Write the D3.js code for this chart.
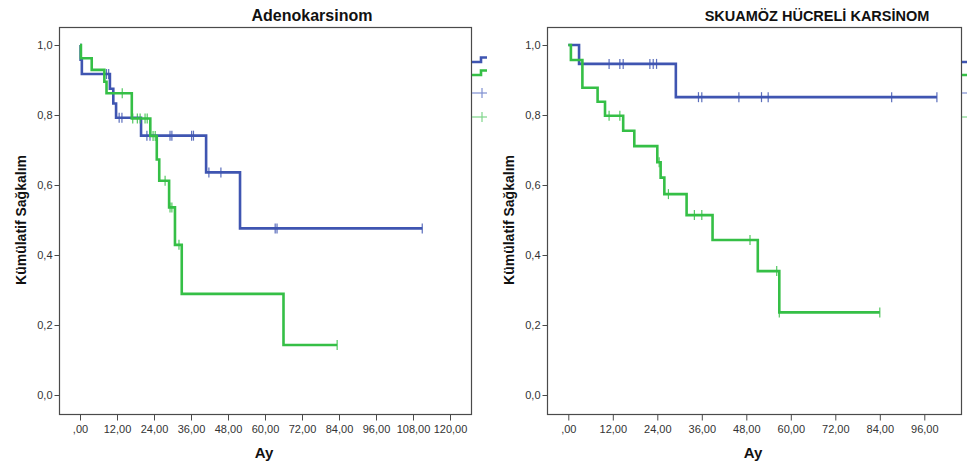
<!DOCTYPE html>
<html>
<head>
<meta charset="utf-8">
<script src="https://cdn.jsdelivr.net/npm/d3@7"></script>
<style>
  body { margin: 0; background: #fff; }
  svg text { font-family: Arial, "Liberation Sans", sans-serif; }
</style>
</head>
<body>
<div id="chart"></div>
<script>
// ---- data ----
var yTicks = [0, 0.2, 0.4, 0.6, 0.8, 1.0];

// Adenokarsinom
var adenoTicks = [0, 12, 24, 36, 48, 60, 72, 84, 96, 108, 120];
var adenoBlueTime = [0, 0.2, 0.6, 9.7, 10.8, 11.7, 19.8, 40.9, 51.9, 111];
var adenoBlueSurv = [1, 0.958, 0.917, 0.875, 0.833, 0.792, 0.741, 0.636, 0.476, 0.476];
var adenoBlueCens = [8.6, 9.3, 12.7, 13.6, 21.7, 22.7, 29.2, 29.8, 36.2, 36.8, 41.8, 45.7, 63.3, 63.9, 111];
var adenoGreenTime = [0, 0.3, 3.8, 7.9, 8.6, 16.8, 22.8, 24.9, 25.7, 28.9, 30.8, 33.0, 66.0, 83.4];
var adenoGreenSurv = [1, 0.962, 0.929, 0.895, 0.862, 0.790, 0.740, 0.673, 0.612, 0.536, 0.429, 0.289, 0.143, 0.143];
var adenoGreenCens = [13.7, 17.1, 18.6, 19.5, 21.1, 21.8, 23.7, 24.4, 27.6, 29.2, 29.8, 32.1, 83.4];

// Skuamöz hücreli karsinom
var skuaTicks = [0, 12, 24, 36, 48, 60, 72, 84, 96];
var skuaBlueTime = [0, 2.9, 29.0, 99.4];
var skuaBlueSurv = [1, 0.946, 0.851, 0.851];
var skuaBlueCens = [11.0, 13.9, 14.8, 22.0, 22.9, 23.8, 35.1, 36.0, 46.0, 52.1, 53.9, 87.2, 99.4];
var skuaGreenTime = [0, 0.7, 3.8, 7.9, 9.9, 14.8, 17.8, 24.0, 24.9, 25.9, 31.9, 38.9, 51.1, 56.9, 84.0];
var skuaGreenSurv = [1, 0.957, 0.878, 0.838, 0.798, 0.755, 0.711, 0.665, 0.621, 0.574, 0.514, 0.443, 0.354, 0.236, 0.236];
var skuaGreenCens = [11.0, 13.9, 24.5, 27.0, 34.0, 36.0, 49.0, 56.2, 56.9, 84.0];

var BLUE = "#3f55b1", GREEN = "#35bf46";
var BLUE_C = "#7f8fd0", GREEN_C = "#7fd58a";

var svg = d3.select("#chart").append("svg")
    .attr("width", 967)
    .attr("height", 468);

// panel layout
var panels = [
  { title: "Adenokarsinom", titleX: 312, titleSize: 16,
    left: 59, right: 471, top: 27, bottom: 414,
    xMax: 120, x0: 80, x1: 450, ticks: adenoTicks,
    yTitleX: 21, clipRight: 487,
    groups: [
      { time: adenoBlueTime, surv: adenoBlueSurv, cens: adenoBlueCens, color: BLUE, cColor: BLUE_C },
      { time: adenoGreenTime, surv: adenoGreenSurv, cens: adenoGreenCens, color: GREEN, cColor: GREEN_C }
    ] },
  { title: "SKUAMÖZ HÜCRELİ KARSİNOM", titleX: 817, titleSize: 14.5,
    left: 547, right: 961, top: 27, bottom: 414,
    xMax: 96, x0: 568.3, x1: 924.3, ticks: skuaTicks,
    yTitleX: 509, clipRight: 967,
    groups: [
      { time: skuaBlueTime, surv: skuaBlueSurv, cens: skuaBlueCens, color: BLUE, cColor: BLUE_C },
      { time: skuaGreenTime, surv: skuaGreenSurv, cens: skuaGreenCens, color: GREEN, cColor: GREEN_C }
    ] }
];

var fmtX = function(d) { return d === 0 ? ",00" : d.toFixed(2).replace(".", ","); };
var fmtY = function(d) { return d.toFixed(1).replace(".", ","); };

panels.forEach(function(p, pi) {
  var x = d3.scaleLinear().domain([0, p.xMax]).range([p.x0, p.x1]);
  var y = d3.scaleLinear().domain([0, 1]).range([395, 45]);

  var g = svg.append("g");

  // clip for the cut-off legend on the right
  svg.append("clipPath").attr("id", "clip" + pi)
     .append("rect").attr("x", p.left).attr("y", 0)
     .attr("width", p.clipRight - p.left).attr("height", 468);

  // frame
  g.append("rect")
   .attr("x", p.left + 0.5).attr("y", p.top + 0.5)
   .attr("width", p.right - p.left).attr("height", p.bottom - p.top)
   .attr("fill", "none").attr("stroke", "#4a4a4a").attr("stroke-width", 1.2);

  // x axis
  var xa = g.append("g")
    .attr("transform", "translate(0," + (p.bottom + 0.5) + ")")
    .call(d3.axisBottom(x).tickValues(p.ticks).tickFormat(fmtX).tickSize(6).tickPadding(5));
  xa.select(".domain").remove();
  xa.selectAll("line").attr("stroke", "#4a4a4a");
  xa.selectAll("text").attr("fill", "#333").style("font-size", "11px")
    .style("font-family", "Arial, 'Liberation Sans', sans-serif");

  // y axis
  var ya = g.append("g")
    .attr("transform", "translate(" + (p.left + 0.5) + ",0)")
    .call(d3.axisLeft(y).tickValues(yTicks).tickFormat(fmtY).tickSize(5).tickPadding(2));
  ya.select(".domain").remove();
  ya.selectAll("line").attr("stroke", "#4a4a4a");
  ya.selectAll("text").attr("fill", "#333").style("font-size", "11px")
    .style("font-family", "Arial, 'Liberation Sans', sans-serif");

  // titles
  g.append("text").attr("x", p.titleX).attr("y", 21)
   .attr("text-anchor", "middle").style("font-size", p.titleSize + "px")
   .style("font-weight", "bold").attr("fill", "#111").text(p.title);

  g.append("text").attr("x", (p.left + p.right) / 2 - 1).attr("y", 458)
   .attr("text-anchor", "middle").style("font-size", "15px")
   .style("font-weight", "bold").attr("fill", "#111").text("Ay");

  g.append("text")
   .attr("transform", "translate(" + p.yTitleX + ",220) rotate(-90)")
   .attr("text-anchor", "middle").attr("dy", "0.35em")
   .style("font-size", "14px").style("font-weight", "bold")
   .attr("fill", "#111").text("Kümülatif Sağkalım");

  // survival curves
  var line = d3.line()
    .x(function(d) { return x(d[0]); })
    .y(function(d) { return y(d[1]); })
    .curve(d3.curveStepAfter);

  p.groups.forEach(function(gr) {
    var pts = gr.time.map(function(t, i) { return [t, gr.surv[i]]; });
    g.append("path").datum(pts)
     .attr("d", line).attr("fill", "none")
     .attr("stroke", gr.color).attr("stroke-width", 2.6)
     .attr("stroke-linejoin", "miter");

    var survAt = function(t) {
      var v = gr.surv[0];
      for (var i = 0; i < gr.time.length; i++) if (gr.time[i] <= t) v = gr.surv[i];
      return v;
    };
    g.selectAll(null).data(gr.cens).enter().append("line")
     .attr("x1", function(t) { return x(t); }).attr("x2", function(t) { return x(t); })
     .attr("y1", function(t) { return y(survAt(t)) - 5; })
     .attr("y2", function(t) { return y(survAt(t)) + 5; })
     .attr("stroke", gr.color).attr("stroke-width", 1.2).attr("opacity", 0.85);
  });

  // legend (cut off at the image edge)
  var lg = svg.append("g").attr("clip-path", "url(#clip" + pi + ")");
  var lx = p.right + 1;
  [[62, BLUE], [75, GREEN]].forEach(function(it) {
    lg.append("path")
      .attr("d", "M" + lx + "," + it[0] + "H" + (lx + 9) + "V" + (it[0] - 4.5) + "H" + (lx + 16))
      .attr("fill", "none").attr("stroke", it[1]).attr("stroke-width", 2.6);
  });
  [[93, BLUE_C], [117, GREEN_C]].forEach(function(it) {
    lg.append("line").attr("x1", lx).attr("x2", lx + 16)
      .attr("y1", it[0]).attr("y2", it[0]).attr("stroke", it[1]).attr("stroke-width", 1.2);
    lg.append("line").attr("x1", lx + 10).attr("x2", lx + 10)
      .attr("y1", it[0] - 5).attr("y2", it[0] + 5).attr("stroke", it[1]).attr("stroke-width", 1.2);
  });
});
</script>
</body>
</html>
